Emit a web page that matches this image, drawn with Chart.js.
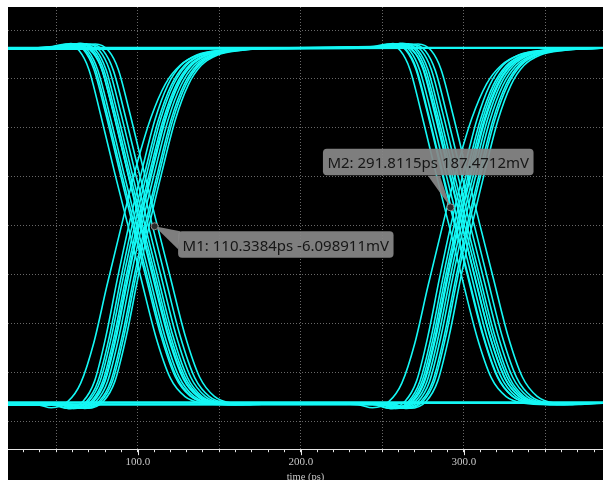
<!DOCTYPE html>
<html><head><meta charset="utf-8">
<style>
html,body{margin:0;padding:0;background:#fff;overflow:hidden;width:603px;height:480px}
#wrap{width:603px;height:480px;overflow:hidden}
canvas{display:block}
</style>
<script src="https://cdn.jsdelivr.net/npm/chart.js@4.4.1/dist/chart.umd.min.js"></script>
</head><body><div id="wrap"><canvas id="c" width="603" height="484"></canvas></div>
<script>
// ---- axes ----
const xMin = 20.4, xMax = 385.4;      // ps
const yMin = -2286, yMax = 2236;      // mV
const xTickStep = 10;
const xGridStep = 50;
const xLabelStep = 100;
const yGridValues = [-2000, -1500, -1000, -500, 0, 500, 1000, 1500, 2000];
const xTitle = 'time (ps)';

// ---- settled levels (mV) ----
const highLine = [[20.4, 1820], [385.4, 1820]];
const lowLine  = [[20.4, -1806], [385.4, -1806]];

// ---- edges at the first crossing: falling [ps, mV] ----
const f1a = [[46,1828],[56,1858],[64,1790],[70,1598],[77,1150],[86,530],[94,0],[102,-540],[111,-1130],[120,-1560],[129,-1748],[140,-1816],[154,-1829],[174,-1812]];
const f1b = [[49,1832],[59,1862],[67,1795],[73,1605],[80,1170],[89,548],[97,0],[105,-525],[114,-1112],[123,-1545],[132,-1742],[143,-1814],[157,-1827],[177,-1811]];
const f1c = [[51.5,1826],[61.5,1856],[69.5,1788],[75.5,1590],[82.5,1150],[91.5,535],[99.5,0],[107.5,-535],[116.5,-1125],[125.5,-1552],[134.5,-1746],[145.5,-1815],[159.5,-1830],[179.5,-1813]];
const f1d = [[52,1830],[62,1855],[70.5,1800],[77,1640],[84,1230],[93,600],[101.5,0],[110,-580],[119,-1160],[128,-1570],[137,-1750],[148,-1816],[162,-1829],[182,-1812]];
const f1e = [[55,1834],[65,1864],[73,1794],[79,1602],[86,1162],[95,542],[103,0],[111,-528],[120,-1118],[129,-1548],[138,-1744],[149,-1814],[163,-1828],[183,-1811]];
const f1f = [[56.5,1828],[66.5,1858],[74.5,1790],[80.5,1596],[87.5,1155],[96.5,536],[104.5,0],[112.5,-534],[121.5,-1124],[130.5,-1553],[139.5,-1747],[150.5,-1815],[164.5,-1829],[184.5,-1812]];
const f1g = [[58.5,1830],[68.5,1860],[76.5,1791],[82.5,1600],[89.5,1158],[98.5,538],[106.5,0],[114.5,-530],[123.5,-1120],[132.5,-1550],[141.5,-1745],[152.5,-1815],[166.5,-1828],[186.5,-1812]];
const f1h = [[61,1826],[71,1854],[79,1786],[85,1588],[92,1145],[101,528],[109,0],[117,-538],[126,-1128],[135,-1556],[144,-1748],[155,-1816],[169,-1830],[189,-1813]];
const f1i = [[64,1830],[74,1858],[82,1790],[88,1600],[95,1160],[104,540],[112,0],[120,-530],[129,-1120],[138,-1550],[147,-1745],[158,-1815],[172,-1828],[192,-1812]];
const f1j = [[50,1829],[60,1859],[68,1793],[74,1602],[81,1160],[90,540],[98,0],[106,-532],[115,-1122],[124,-1552],[133,-1746],[144,-1815],[158,-1828],[178,-1812]];
const f1k = [[54,1831],[64,1861],[72,1792],[78,1600],[85,1156],[94,536],[102,0],[110,-534],[119,-1124],[128,-1553],[137,-1747],[148,-1815],[162,-1829],[182,-1812]];

// ---- edges at the first crossing: rising ----
const r1a = [[38,-1830],[47,-1862],[57,-1800],[65,-1610],[73,-1200],[81,-620],[90,0],[99,600],[108,1100],[117,1450],[126,1640],[137,1745],[152,1792],[172,1812]];
const r1b = [[46.5,-1826],[56.5,-1868],[66.5,-1795],[73.5,-1590],[80.5,-1130],[87.5,-545],[94.5,0],[102.5,560],[110.5,1080],[118.5,1440],[126.5,1640],[136.5,1748],[150.5,1794],[169.5,1812]];
const r1c = [[48.5,-1830],[58.5,-1872],[68.5,-1798],[75.5,-1596],[82.5,-1140],[89.5,-550],[96.5,0],[104.5,555],[112.5,1072],[120.5,1434],[128.5,1635],[138.5,1742],[152.5,1790],[171.5,1811]];
const r1d = [[50,-1824],[60,-1866],[70,-1792],[77,-1585],[84,-1125],[91,-540],[98,0],[106,565],[114,1088],[122,1446],[130,1644],[140,1750],[154,1795],[173,1813]];
const r1e = [[51.5,-1828],[61.5,-1870],[71.5,-1796],[78.5,-1592],[85.5,-1132],[92.5,-546],[99.5,0],[107.5,558],[115.5,1078],[123.5,1438],[131.5,1638],[141.5,1745],[155.5,1792],[174.5,1812]];
const r1f = [[53,-1826],[63,-1866],[73,-1794],[80,-1588],[87,-1128],[94,-543],[101,0],[109,562],[117,1084],[125,1442],[133,1641],[143,1747],[157,1793],[176,1812]];
const r1g = [[54.5,-1830],[64.5,-1868],[74.5,-1797],[81.5,-1593],[88.5,-1133],[95.5,-547],[102.5,0],[110.5,556],[118.5,1076],[126.5,1436],[134.5,1636],[144.5,1743],[158.5,1790],[177.5,1811]];
const r1h = [[56.5,-1825],[66.5,-1866],[76.5,-1793],[83.5,-1588],[90.5,-1126],[97.5,-542],[104.5,0],[112.5,563],[120.5,1086],[128.5,1444],[136.5,1642],[146.5,1748],[160.5,1794],[179.5,1812]];
const r1i = [[59,-1828],[69,-1868],[79,-1795],[86,-1590],[93,-1130],[100,-545],[107,0],[115,560],[123,1080],[131,1440],[139,1640],[149,1746],[163,1792],[182,1812]];
const r1j = [[52.5,-1827],[62.5,-1867],[72.5,-1795],[79.5,-1590],[86.5,-1130],[93.5,-545],[100.5,0],[108.5,560],[116.5,1080],[124.5,1440],[132.5,1640],[142.5,1746],[156.5,1792],[175.5,1812]];
const r1k = [[57.5,-1829],[67.5,-1869],[77.5,-1796],[84.5,-1591],[91.5,-1131],[98.5,-546],[105.5,0],[113.5,559],[121.5,1079],[129.5,1439],[137.5,1639],[147.5,1745],[161.5,1791],[180.5,1811]];

// ---- edges at the second crossing: falling ----
const f2a = [[243,1828],[253,1858],[261,1790],[267,1598],[274,1150],[283,530],[291,0],[299,-540],[308,-1130],[317,-1560],[326,-1748],[337,-1816],[351,-1829],[371,-1812]];
const f2b = [[246.5,1832],[256.5,1862],[264.5,1795],[270.5,1605],[277.5,1170],[286.5,548],[294.5,0],[302.5,-525],[311.5,-1112],[320.5,-1545],[329.5,-1742],[340.5,-1814],[354.5,-1827],[374.5,-1811]];
const f2c = [[249,1826],[259,1856],[267,1788],[273,1590],[280,1150],[289,535],[297,0],[305,-535],[314,-1125],[323,-1552],[332,-1746],[343,-1815],[357,-1830],[377,-1813]];
const f2d = [[249.5,1830],[259.5,1855],[268,1800],[274.5,1640],[281.5,1230],[290.5,600],[299,0],[307.5,-580],[316.5,-1160],[325.5,-1570],[334.5,-1750],[345.5,-1816],[359.5,-1829],[379.5,-1812]];
const f2e = [[252.5,1834],[262.5,1864],[270.5,1794],[276.5,1602],[283.5,1162],[292.5,542],[300.5,0],[308.5,-528],[317.5,-1118],[326.5,-1548],[335.5,-1744],[346.5,-1814],[360.5,-1828],[380.5,-1811]];
const f2f = [[254,1828],[264,1858],[272,1790],[278,1596],[285,1155],[294,536],[302,0],[310,-534],[319,-1124],[328,-1553],[337,-1747],[348,-1815],[362,-1829],[382,-1812]];
const f2g = [[256,1830],[266,1860],[274,1791],[280,1600],[287,1158],[296,538],[304,0],[312,-530],[321,-1120],[330,-1550],[339,-1745],[350,-1815],[364,-1828],[384,-1812]];
const f2h = [[258.5,1826],[268.5,1854],[276.5,1786],[282.5,1588],[289.5,1145],[298.5,528],[306.5,0],[314.5,-538],[323.5,-1128],[332.5,-1556],[341.5,-1748],[352.5,-1816],[366.5,-1830],[386.5,-1813]];
const f2i = [[262,1830],[272,1858],[280,1790],[286,1600],[293,1160],[302,540],[310,0],[318,-530],[327,-1120],[336,-1550],[345,-1745],[356,-1815],[370,-1828],[390,-1812]];
const f2j = [[247,1829],[257,1859],[265,1793],[271,1602],[278,1160],[287,540],[295,0],[303,-532],[312,-1122],[321,-1552],[330,-1746],[341,-1815],[355,-1828],[375,-1812]];
const f2k = [[251,1831],[261,1861],[269,1792],[275,1600],[282,1156],[291,536],[299,0],[307,-534],[316,-1124],[325,-1553],[334,-1747],[345,-1815],[359,-1829],[379,-1812]];

// ---- edges at the second crossing: rising ----
const r2a = [[235,-1830],[244,-1862],[254,-1800],[262,-1610],[270,-1200],[278,-620],[287,0],[296,600],[305,1100],[314,1450],[323,1640],[334,1745],[349,1792],[369,1812]];
const r2b = [[244,-1826],[254,-1868],[264,-1795],[271,-1590],[278,-1130],[285,-545],[292,0],[300,560],[308,1080],[316,1440],[324,1640],[334,1748],[348,1794],[367,1812]];
const r2c = [[246,-1830],[256,-1872],[266,-1798],[273,-1596],[280,-1140],[287,-550],[294,0],[302,555],[310,1072],[318,1434],[326,1635],[336,1742],[350,1790],[369,1811]];
const r2d = [[247.5,-1824],[257.5,-1866],[267.5,-1792],[274.5,-1585],[281.5,-1125],[288.5,-540],[295.5,0],[303.5,565],[311.5,1088],[319.5,1446],[327.5,1644],[337.5,1750],[351.5,1795],[370.5,1813]];
const r2e = [[249,-1828],[259,-1870],[269,-1796],[276,-1592],[283,-1132],[290,-546],[297,0],[305,558],[313,1078],[321,1438],[329,1638],[339,1745],[353,1792],[372,1812]];
const r2f = [[250.5,-1826],[260.5,-1866],[270.5,-1794],[277.5,-1588],[284.5,-1128],[291.5,-543],[298.5,0],[306.5,562],[314.5,1084],[322.5,1442],[330.5,1641],[340.5,1747],[354.5,1793],[373.5,1812]];
const r2g = [[252,-1830],[262,-1868],[272,-1797],[279,-1593],[286,-1133],[293,-547],[300,0],[308,556],[316,1076],[324,1436],[332,1636],[342,1743],[356,1790],[375,1811]];
const r2h = [[254,-1825],[264,-1866],[274,-1793],[281,-1588],[288,-1126],[295,-542],[302,0],[310,563],[318,1086],[326,1444],[334,1642],[344,1748],[358,1794],[377,1812]];
const r2i = [[257,-1828],[267,-1868],[277,-1795],[284,-1590],[291,-1130],[298,-545],[305,0],[313,560],[321,1080],[329,1440],[337,1640],[347,1746],[361,1792],[380,1812]];
const r2j = [[248.5,-1827],[258.5,-1867],[268.5,-1795],[275.5,-1590],[282.5,-1130],[289.5,-545],[296.5,0],[304.5,560],[312.5,1080],[320.5,1440],[328.5,1640],[338.5,1746],[352.5,1792],[371.5,1812]];
const r2k = [[255,-1829],[265,-1869],[275,-1796],[282,-1591],[289,-1131],[296,-546],[303,0],[311,559],[319,1079],[327,1439],[335,1639],[345,1745],[359,1791],[378,1811]];

// ---- traces: start level, edges, end level ----
const traceStart = [1806,1804,1808,1805,1807,1806, 1805,1808,1804,1806,1807, -1830,-1826,-1834,-1828,-1832,-1829, -1829,-1833,-1827,-1831,-1830, 1807,1805,1809,1806,1808, -1828,-1832,-1826,-1830,-1829];
const traceEdges = [
  [f1a,r2c],[f1c,r2e],[f1e,r2a],[f1g,r2h],[f1i,r2f],[f1j,r2k],
  [f1b],[f1d],[f1f],[f1h],[f1k],
  [r1a,f2d],[r1c,f2b],[r1e,f2h],[r1g,f2a],[r1i,f2f],[r1j,f2k],
  [r1b],[r1d],[r1f],[r1h],[r1k],
  [f2c],[f2e],[f2g],[f2i],[f2j],
  [r2b],[r2d],[r2g],[r2i],[r2j]
];
const traceEnd = [1816,1815,1817,1816,1815,1816, -1811,-1812,-1811,-1812,-1811, -1812,-1811,-1813,-1812,-1812,-1811, 1819,1820,1818,1819,1818, -1812,-1811,-1812,-1812,-1811, 1815,1816,1815,1816,1815];

// ---- markers ----
const markerNames  = ['M1', 'M2'];
const markerTimes  = ['110.3384', '291.8115'];
const markerValues = ['-6.098911', '187.4712'];

const traceColor = 'rgb(20,248,245)';
const toPts = arr => arr.map(p => ({x: p[0], y: p[1]}));

const datasets = [];
traceEdges.forEach((edges, i) => {
  let pts = [[xMin, traceStart[i]]];
  edges.forEach(e => { pts = pts.concat(e); });
  pts.push([xMax + 1, traceEnd[i]]);
  datasets.push({data: toPts(pts), borderColor: traceColor, borderWidth: 1.6, showLine: true,
    pointRadius: 0, cubicInterpolationMode: 'monotone', fill: false});
});
[highLine, lowLine].forEach(l => datasets.push({data: toPts(l), borderColor: traceColor, borderWidth: 2,
  showLine: true, pointRadius: 0, fill: false}));

const bgPlugin = {
  id: 'bg',
  beforeDraw(chart) {
    const c = chart.ctx;
    c.save();
    c.fillStyle = '#ffffff';
    c.fillRect(0, 0, chart.width, chart.height);
    c.fillStyle = '#000000';
    c.fillRect(chart.chartArea.left, chart.chartArea.top, chart.width - chart.chartArea.left, chart.height - chart.chartArea.top);
    c.restore();
  },
  afterDraw(chart) {
    const c = chart.ctx, xs = chart.scales.x, b = chart.chartArea.bottom;
    c.save();
    c.strokeStyle = '#e6e6e6'; c.lineWidth = 1;
    for (let v = xLabelStep; v < xMax; v += xLabelStep) {
      const px = Math.round(xs.getPixelForValue(v)) + 0.5;
      c.beginPath(); c.moveTo(px, b); c.lineTo(px, b + 6); c.stroke();
    }
    c.restore();
  }
};

// bubble layout: box offset from marker, tail base points relative to box
const bubbleLayout = [
  {dx: 23.5, dy: 5, tail: [[2, 0], [0, 18]]},
  {dx: -127.5, dy: -58.5, tail: [[105, 27], [117, 27]]}
];

const markerPlugin = {
  id: 'markers',
  afterDatasetsDraw(chart) {
    const c = chart.ctx, xs = chart.scales.x, ys = chart.scales.y;
    c.save();
    c.font = '15px "Noto Sans"';
    markerNames.forEach((name, i) => {
      const mx = xs.getPixelForValue(parseFloat(markerTimes[i]));
      const my = ys.getPixelForValue(parseFloat(markerValues[i]));
      const text = name + ': ' + markerTimes[i] + 'ps ' + markerValues[i] + 'mV';
      const w = c.measureText(text).width + 9, h = 26.5;
      const L = bubbleLayout[i];
      const bx = mx + L.dx, by = my + L.dy;
      c.fillStyle = 'rgba(136,136,136,0.93)';
      c.beginPath();
      c.moveTo(mx, my);
      c.lineTo(bx + L.tail[0][0], by + L.tail[0][1]);
      c.lineTo(bx + L.tail[1][0], by + L.tail[1][1]);
      c.closePath(); c.fill();
      c.beginPath();
      c.roundRect(bx, by, w, h, 4);
      c.fill();
      c.fillStyle = '#161616';
      c.textBaseline = 'alphabetic';
      c.fillText(text, bx + 4.5, by + 19.5);
      c.beginPath();
      c.arc(mx, my, 3.5, 0, Math.PI * 2);
      c.fillStyle = '#2b2b2b'; c.fill();
      c.strokeStyle = '#8a8a8a'; c.lineWidth = 1; c.stroke();
    });
    c.restore();
  }
};

new Chart(document.getElementById('c'), {
  type: 'scatter',
  data: {datasets},
  options: {
    responsive: false, animation: false, events: [],
    layout: {padding: {left: 8, top: 7, right: 0, bottom: 0}},
    plugins: {legend: {display: false}, tooltip: {enabled: false}},
    scales: {
      x: {
        type: 'linear', min: xMin, max: xMax,
        ticks: {stepSize: xTickStep, autoSkip: false, maxRotation: 0, includeBounds: false, padding: 3,
          color: '#c6c6c6', font: {family: '"Liberation Serif", serif', size: 11},
          callback: v => (Math.abs(v % xLabelStep) < 1e-6 ? v.toFixed(1) : '')},
        grid: {color: c => (c.tick && Math.abs(c.tick.value % xGridStep) < 1e-6 ? 'rgba(115,115,115,0.9)' : 'rgba(0,0,0,0)'),
          tickColor: '#e6e6e6', tickLength: 3, lineWidth: 1, drawTicks: true},
        border: {display: true, color: '#e6e6e6', width: 1, dash: [1, 2]},
        title: {display: true, text: xTitle, color: '#c6c6c6', font: {family: '"Liberation Serif", serif', size: 10.5},
          padding: {top: 0, bottom: 0}}
      },
      y: {
        type: 'linear', min: yMin, max: yMax,
        afterBuildTicks: scale => { scale.ticks = yGridValues.map(v => ({value: v})); },
        ticks: {display: false},
        grid: {color: 'rgba(115,115,115,0.9)', drawTicks: false, lineWidth: 1},
        border: {display: false, dash: [1, 2]}
      }
    }
  },
  plugins: [bgPlugin, markerPlugin]
});
</script>
</body></html>
